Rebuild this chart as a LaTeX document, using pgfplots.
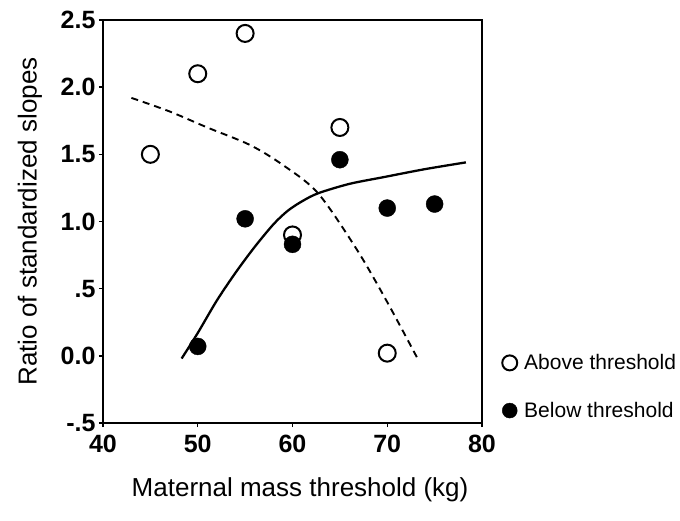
\documentclass[border=0pt]{standalone}
\usepackage{fontspec}
\setmainfont{Liberation Sans}
\usepackage{pgfplots}
\pgfplotsset{compat=1.18}
\begin{document}
\begin{tikzpicture}
\begin{axis}[
    name=ax,
    scale only axis,
    width=379bp, height=403bp,
    xmin=40, xmax=80, ymin=-0.5, ymax=2.5,
    xtick={40,50,60,70,80},
    xticklabels={40,50,60,70,80},
    ytick={-0.5,0,0.5,1,1.5,2,2.5},
    yticklabels={-.5,0.0,.5,1.0,1.5,2.0,2.5},
    tick align=outside,
    xtick pos=bottom, ytick pos=left,
    major tick length=4bp,
    axis line style={line width=2pt},
    every tick/.style={black, line width=1.4pt},
    tick label style={font=\fontsize{25bp}{29bp}\selectfont\bfseries},
    xticklabel style={yshift=-5bp},
    label style={font=\fontsize{26bp}{30bp}\selectfont},
    xlabel={Maternal mass threshold (kg)},
    ylabel={Ratio of standardized slopes},
    xlabel style={at={(axis description cs:0.52,-0.166)}, anchor=center},
    ylabel style={at={(axis description cs:-0.193,0.5)}, anchor=center},
    legend style={draw=none, fill=none, at={(axis description cs:1.045,0.09)},
        anchor=west, font=\fontsize{21bp}{25bp}\selectfont, row sep=27bp, column sep=5bp},
    legend cell align=left,
    legend image code/.code={\draw[#1, mark size=7.5bp] plot coordinates {(0bp,0bp)};},
]

% fitted curves
\addplot[black, line width=1.9pt, dash pattern=on 7bp off 5bp, smooth, forget plot] coordinates {
    (43,1.92) (47,1.82) (51,1.70) (55.5,1.57) (59,1.42) (62.7,1.21) (66.8,0.79) (70,0.40) (73.2,-0.02)
};
\addplot[black, line width=2.3pt, smooth, forget plot] coordinates {
    (48.3,-0.02) (50,0.17) (52,0.41) (54,0.62) (56,0.81) (58,0.98) (59.5,1.08) (61,1.15)
    (62.7,1.21) (66,1.28) (69.6,1.33) (74,1.39) (78.3,1.44)
};

\addplot[only marks, mark=*, mark size=8.5bp, mark options={fill=white, draw=black, line width=2pt}] coordinates {
    (45,1.5) (50,2.1) (55,2.4) (60,0.9) (65,1.7) (70,0.02)
};
\addlegendentry{Above threshold}
\addplot[only marks, mark=*, mark size=8.5bp, mark options={fill=black, draw=black}] coordinates {
    (50,0.07) (55,1.02) (60,0.83) (65,1.46) (70,1.1) (75,1.13)
};
\addlegendentry{Below threshold}
\end{axis}
\pgfresetboundingbox
\path[use as bounding box] ([shift={(-103bp,-98bp)}]ax.south west) rectangle ([shift={(198bp,20bp)}]ax.north east);
\end{tikzpicture}
\end{document}
